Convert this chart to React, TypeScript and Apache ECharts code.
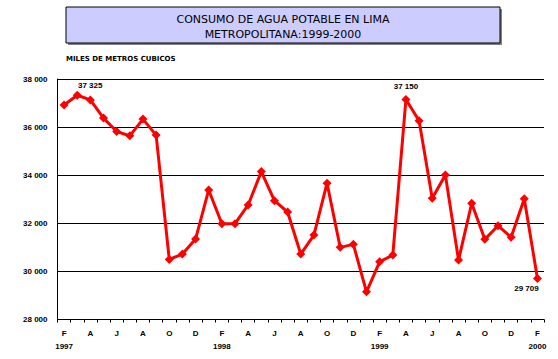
import React, { useEffect, useRef } from "react";
import * as echarts from "echarts";

const categories = [
  "Feb 1997", "Mar 1997", "Abr 1997", "May 1997", "Jun 1997", "Jul 1997", "Ago 1997", "Set 1997", "Oct 1997", "Nov 1997", "Dic 1997",
  "Ene 1998", "Feb 1998", "Mar 1998", "Abr 1998", "May 1998", "Jun 1998", "Jul 1998", "Ago 1998", "Set 1998", "Oct 1998", "Nov 1998", "Dic 1998",
  "Ene 1999", "Feb 1999", "Mar 1999", "Abr 1999", "May 1999", "Jun 1999", "Jul 1999", "Ago 1999", "Set 1999", "Oct 1999", "Nov 1999", "Dic 1999",
  "Ene 2000", "Feb 2000",
];

const consumo = [
  36917, 37325, 37130, 36375, 35817, 35638, 36333, 35667, 30500, 30721, 31346,
  33387, 31983, 31983, 32762, 34150, 32942, 32470, 30721, 31512, 33667, 31000,
  31125, 29150, 30400, 30679, 37150, 36262, 33042, 34012, 30471, 32833, 31333,
  31900, 31417, 33025, 29709,
];

const labeledIdx = [1, 26, 36];
const yearTicks = [0, 12, 24, 36];

const titleText = "CONSUMO DE AGUA POTABLE EN LIMA\nMETROPOLITANA:1999-2000";
const unitText = "MILES DE METROS CUBICOS";

const fmt = (v: number) => {
  const s = String(Math.round(v));
  return s.length > 3 ? s.slice(0, s.length - 3) + " " + s.slice(s.length - 3) : s;
};

export default function App() {
  const ref = useRef<HTMLDivElement>(null);
  useEffect(() => {
    if (!ref.current) return;
    const chart = echarts.init(ref.current, null, { renderer: "svg" });
    const font = "Arial, 'Liberation Sans', sans-serif";
    chart.setOption({
      animation: false,
      backgroundColor: "#ffffff",
      graphic: [
        { type: "rect", shape: { x: 68, y: 9, width: 434, height: 36 }, style: { fill: "#808080" }, z: 1 },
        { type: "rect", shape: { x: 66, y: 7, width: 434, height: 36 }, style: { fill: "#CCCCFF", stroke: "#000", lineWidth: 1 }, z: 2 },
        {
          type: "text", x: 283, y: 12, z: 3,
          style: { text: titleText, fill: "#000", font: `11px 'DejaVu Sans', sans-serif`, align: "center", textAlign: "center", verticalAlign: "top", lineHeight: 15 },
        },
        {
          type: "text", x: 66, y: 55, z: 3,
          style: { text: unitText, fill: "#000", font: `bold 7px 'DejaVu Sans', sans-serif` },
        },
      ],
      grid: { left: 57.5, right: 14, top: 79, bottom: 39.5, containLabel: false },
      xAxis: {
        type: "category",
        data: categories,
        boundaryGap: true,
        axisLine: { show: true, lineStyle: { color: "#000", width: 1 } },
        axisTick: { show: true, interval: 0, length: 3, lineStyle: { color: "#000" } },
        axisLabel: {
          interval: 1,
          margin: 7,
          lineHeight: 13,
          color: "#000",
          fontFamily: font,
          fontSize: 8,
          fontWeight: "bold",
          formatter: (value: string, index: number) => {
            const letter = value.charAt(0);
            const year = value.split(" ")[1];
            return yearTicks.includes(index) ? letter + "\n" + year : letter;
          },
        },
        splitLine: { show: false },
      },
      yAxis: {
        type: "value",
        min: 28000,
        max: 38000,
        interval: 2000,
        axisLine: { show: true, lineStyle: { color: "#000", width: 1 } },
        axisTick: { show: false },
        axisLabel: {
          margin: 10,
          color: "#000",
          fontFamily: font,
          fontSize: 8,
          fontWeight: "bold",
          formatter: (v: number) => fmt(v),
        },
        splitLine: { show: true, lineStyle: { color: "#000", width: 1 } },
      },
      series: [
        {
          type: "line",
          showAllSymbol: true,
          data: consumo.map((v, i) => {
            if (!labeledIdx.includes(i)) return v;
            const label: any = { show: true, formatter: (p: any) => fmt(p.value) };
            if (i === 1) { label.position = "top"; label.distance = 1; label.offset = [13, 0]; }
            if (i === 26) { label.position = "top"; label.distance = 4; }
            if (i === 36) { label.position = "bottom"; label.distance = 2; label.offset = [-11, 0]; }
            return { value: v, label };
          }),
          symbol: "diamond",
          symbolSize: 9,
          lineStyle: { color: "#FF0000", width: 3 },
          itemStyle: { color: "#FF0000" },
          label: { show: false, color: "#000", fontFamily: font, fontSize: 8, fontWeight: "bold" },
          z: 5,
        },
      ],
    });
    return () => chart.dispose();
  }, []);
  return <div ref={ref} style={{ width: 558, height: 359, position: "absolute", left: 0, top: 0 }} />;
}
